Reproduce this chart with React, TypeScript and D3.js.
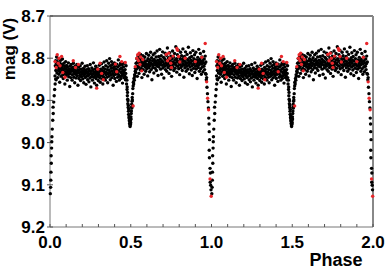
import * as d3 from "d3";

// chart size and frame
const width = 390;
const height = 272;
const marginLeft = 50;
const marginRight = 17;
const marginTop = 16;
const marginBottom = 45;

// phase 0..1 observations, black (V)
const blackOut1: [number, number][] = [
  [0.031,8.842],[0.033,8.818],[0.035,8.806],[0.036,8.829],[0.038,8.851],[0.040,8.812],[0.041,8.797],[0.043,8.835],[0.045,8.821],[0.046,8.808],
  [0.048,8.846],[0.050,8.815],[0.052,8.829],[0.053,8.801],[0.055,8.838],[0.057,8.824],[0.059,8.811],[0.060,8.857],[0.062,8.819],[0.064,8.833],
  [0.066,8.805],[0.068,8.826],[0.069,8.843],[0.071,8.814],[0.073,8.831],[0.075,8.822],[0.077,8.802],[0.079,8.839],[0.080,8.817],[0.082,8.848],
  [0.084,8.827],[0.086,8.812],[0.088,8.836],[0.090,8.824],[0.092,8.861],[0.093,8.819],[0.095,8.832],[0.097,8.808],[0.099,8.841],[0.101,8.826],
  [0.103,8.817],[0.105,8.835],[0.107,8.852],[0.108,8.821],[0.110,8.829],[0.112,8.838],[0.114,8.811],[0.116,8.844],[0.118,8.826],[0.120,8.833],
  [0.122,8.867],[0.124,8.819],[0.125,8.837],[0.127,8.828],[0.129,8.846],[0.131,8.815],[0.133,8.831],[0.135,8.824],[0.137,8.852],[0.139,8.839],
  [0.141,8.822],[0.143,8.829],[0.145,8.812],[0.147,8.845],[0.149,8.834],[0.151,8.826],[0.153,8.858],[0.155,8.819],[0.157,8.838],[0.159,8.831],
  [0.161,8.847],[0.163,8.823],[0.165,8.836],[0.167,8.815],[0.169,8.842],[0.171,8.829],[0.173,8.864],[0.175,8.832],[0.177,8.821],[0.179,8.848],
  [0.181,8.835],[0.183,8.827],[0.185,8.841],[0.187,8.818],[0.189,8.853],[0.191,8.833],[0.193,8.826],[0.195,8.844],[0.197,8.838],[0.199,8.812],
  [0.201,8.831],[0.203,8.849],[0.205,8.836],[0.207,8.824],[0.209,8.858],[0.211,8.841],[0.213,8.829],[0.215,8.837],[0.217,8.819],[0.219,8.846],
  [0.221,8.833],[0.223,8.862],[0.225,8.827],[0.227,8.843],[0.229,8.836],[0.231,8.818],[0.233,8.851],[0.235,8.832],[0.237,8.841],[0.239,8.825],
  [0.241,8.856],[0.243,8.838],[0.245,8.829],[0.247,8.847],[0.249,8.815],[0.251,8.836],[0.253,8.868],[0.255,8.831],[0.257,8.844],[0.259,8.823],
  [0.261,8.839],[0.263,8.852],[0.265,8.828],[0.267,8.837],[0.269,8.811],[0.271,8.845],[0.273,8.833],[0.275,8.859],[0.277,8.826],[0.279,8.841],
  [0.281,8.834],[0.283,8.819],[0.285,8.848],[0.287,8.831],[0.289,8.864],[0.291,8.838],[0.293,8.824],[0.295,8.843],[0.297,8.835],[0.299,8.853],
  [0.301,8.828],[0.303,8.839],[0.305,8.817],[0.307,8.846],[0.309,8.832],[0.311,8.857],[0.313,8.826],[0.315,8.841],[0.317,8.836],[0.319,8.813],
  [0.321,8.849],[0.323,8.829],[0.325,8.838],[0.327,8.861],[0.329,8.822],[0.331,8.844],[0.333,8.831],[0.335,8.809],[0.337,8.847],[0.339,8.835],
  [0.341,8.826],[0.343,8.852],[0.345,8.818],[0.347,8.839],[0.349,8.833],[0.351,8.806],[0.353,8.845],[0.355,8.827],[0.357,8.858],[0.359,8.821],
  [0.361,8.837],[0.363,8.812],[0.365,8.843],[0.367,8.829],[0.369,8.801],[0.371,8.834],[0.373,8.851],[0.375,8.818],[0.377,8.839],[0.379,8.824],
  [0.381,8.808],[0.383,8.846],[0.385,8.831],[0.387,8.815],[0.389,8.837],[0.391,8.864],[0.393,8.822],[0.395,8.841],[0.397,8.827],[0.399,8.811],
  [0.401,8.848],[0.403,8.833],[0.405,8.819],[0.407,8.838],[0.409,8.826],[0.411,8.855],[0.413,8.814],[0.415,8.836],[0.417,8.829],[0.419,8.845],
  [0.421,8.821],[0.423,8.804],[0.425,8.839],[0.427,8.831],[0.429,8.852],[0.431,8.817],[0.433,8.843],[0.435,8.826],[0.437,8.812],[0.439,8.848],
  [0.441,8.834],[0.443,8.823],[0.445,8.841],[0.447,8.815],[0.449,8.859],[0.451,8.829],[0.453,8.838],[0.455,8.821],[0.457,8.846],[0.459,8.833],
  [0.461,8.812],[0.463,8.842],[0.465,8.827],[0.467,8.851],[0.469,8.836],[0.471,8.818],
];

const blackOut2: [number, number][] = [
  [0.531,8.834],[0.533,8.812],[0.535,8.826],[0.537,8.801],[0.539,8.819],[0.541,8.843],[0.543,8.808],[0.545,8.795],[0.547,8.822],[0.549,8.811],
  [0.551,8.836],[0.553,8.799],[0.555,8.817],[0.557,8.805],[0.559,8.828],[0.561,8.791],[0.563,8.813],[0.565,8.824],[0.567,8.802],[0.569,8.846],
  [0.571,8.809],[0.573,8.818],[0.575,8.794],[0.577,8.827],[0.579,8.812],[0.581,8.803],[0.583,8.838],[0.585,8.816],[0.587,8.797],[0.589,8.821],
  [0.591,8.808],[0.593,8.831],[0.595,8.814],[0.597,8.789],[0.599,8.825],[0.601,8.806],[0.603,8.819],[0.605,8.842],[0.607,8.801],[0.609,8.815],
  [0.611,8.793],[0.613,8.823],[0.615,8.809],[0.617,8.832],[0.619,8.804],[0.621,8.818],[0.623,8.786],[0.625,8.812],[0.627,8.827],[0.629,8.799],
  [0.631,8.851],[0.633,8.814],[0.635,8.806],[0.637,8.822],[0.639,8.792],[0.641,8.817],[0.643,8.835],[0.645,8.803],[0.647,8.811],[0.649,8.788],
  [0.651,8.824],[0.653,8.807],[0.655,8.816],[0.657,8.797],[0.659,8.829],[0.661,8.812],[0.663,8.783],[0.665,8.819],[0.667,8.805],[0.669,8.841],
  [0.671,8.813],[0.673,8.796],[0.675,8.821],[0.677,8.808],[0.679,8.779],[0.681,8.815],[0.683,8.802],[0.685,8.826],[0.687,8.811],[0.689,8.794],
  [0.691,8.838],[0.693,8.806],[0.695,8.817],[0.697,8.785],[0.699,8.823],[0.701,8.809],[0.703,8.798],[0.705,8.847],[0.707,8.814],[0.709,8.801],
  [0.711,8.819],[0.713,8.788],[0.715,8.827],[0.717,8.805],[0.719,8.812],[0.721,8.793],[0.723,8.831],[0.725,8.816],[0.727,8.776],[0.729,8.808],
  [0.731,8.822],[0.733,8.799],[0.735,8.814],[0.737,8.836],[0.739,8.803],[0.741,8.787],[0.743,8.818],[0.745,8.807],[0.747,8.826],[0.749,8.795],
  [0.751,8.811],[0.753,8.843],[0.755,8.802],[0.757,8.816],[0.759,8.783],[0.761,8.821],[0.763,8.809],[0.765,8.797],[0.767,8.829],[0.769,8.813],
  [0.771,8.789],[0.773,8.804],[0.775,8.824],[0.777,8.811],[0.779,8.773],[0.781,8.817],[0.783,8.801],[0.785,8.833],[0.787,8.806],[0.789,8.792],
  [0.791,8.819],[0.793,8.808],[0.795,8.781],[0.797,8.825],[0.799,8.812],[0.801,8.798],[0.803,8.839],[0.805,8.815],[0.807,8.803],[0.809,8.786],
  [0.811,8.822],[0.813,8.809],[0.815,8.794],[0.817,8.818],[0.819,8.829],[0.821,8.801],[0.823,8.778],[0.825,8.813],[0.827,8.806],[0.829,8.845],
  [0.831,8.817],[0.833,8.796],[0.835,8.823],[0.837,8.808],[0.839,8.785],[0.841,8.814],[0.843,8.831],[0.845,8.802],[0.847,8.819],[0.849,8.791],
  [0.851,8.811],[0.853,8.826],[0.855,8.804],[0.857,8.774],[0.859,8.816],[0.861,8.809],[0.863,8.837],[0.865,8.799],[0.867,8.821],[0.869,8.787],
  [0.871,8.812],[0.873,8.805],[0.875,8.828],[0.877,8.796],[0.879,8.818],[0.881,8.841],[0.883,8.807],[0.885,8.782],[0.887,8.815],[0.889,8.824],
  [0.891,8.801],[0.893,8.813],[0.895,8.792],[0.897,8.834],[0.899,8.809],[0.901,8.819],[0.903,8.786],[0.905,8.826],[0.907,8.804],[0.909,8.817],
  [0.911,8.848],[0.913,8.811],[0.915,8.798],[0.917,8.822],[0.919,8.806],[0.921,8.779],[0.923,8.816],[0.925,8.831],[0.927,8.803],[0.929,8.812],
  [0.931,8.789],[0.933,8.825],[0.935,8.808],[0.937,8.838],[0.939,8.814],[0.941,8.797],[0.943,8.821],[0.945,8.806],[0.947,8.832],[0.949,8.811],
  [0.951,8.784],[0.953,8.819],[0.955,8.802],[0.957,8.827],[0.959,8.813],[0.961,8.795],[0.963,8.836],[0.965,8.809],
];

// secondary minimum near phase 0.5
const blackSecondary: [number, number][] = [
  [0.472,8.846],[0.474,8.861],[0.476,8.852],[0.477,8.874],[0.478,8.868],[0.479,8.889],[0.480,8.881],[0.481,8.897],[0.482,8.908],[0.483,8.901],
  [0.484,8.917],[0.485,8.912],[0.486,8.926],[0.487,8.933],[0.488,8.921],[0.489,8.941],[0.490,8.937],[0.491,8.948],[0.492,8.944],[0.493,8.955],
  [0.494,8.951],[0.495,8.958],[0.496,8.962],[0.497,8.949],[0.498,8.957],[0.499,8.946],[0.500,8.953],[0.501,8.939],[0.502,8.944],[0.503,8.931],
  [0.504,8.925],[0.505,8.916],[0.506,8.909],[0.507,8.918],[0.508,8.902],[0.509,8.893],[0.510,8.899],[0.512,8.884],[0.513,8.872],[0.515,8.866],
  [0.516,8.857],[0.518,8.861],[0.520,8.848],[0.522,8.852],[0.524,8.839],[0.526,8.843],[0.528,8.831],[0.529,8.824],
];

// primary minimum near phase 0 / 1 (sparser, scattered)
const blackPrimary: [number, number][] = [
  [0.966,8.838],[0.968,8.851],[0.970,8.846],[0.972,8.869],[0.975,8.884],[0.978,8.903],[0.981,8.918],[0.983,8.942],[0.985,8.956],[0.986,8.974],
  [0.988,8.993],[0.986,9.018],[0.987,9.036],[0.991,9.061],[0.993,9.072],[0.992,9.094],[0.995,9.101],[0.997,9.112],
  [0.002,9.121],[0.004,9.106],[0.005,9.089],[0.006,9.070],[0.008,9.049],[0.007,9.031],[0.010,9.013],[0.011,8.998],[0.012,8.986],[0.014,8.968],
  [0.017,8.947],[0.020,8.931],[0.019,8.916],[0.023,8.904],[0.026,8.889],[0.029,8.874],[0.032,8.861],[0.035,8.849],
];

// red observations
const redPoints: [number, number][] = [
  [0.031,8.808],[0.038,8.822],[0.045,8.792],[0.051,8.812],[0.056,8.800],[0.062,8.818],[0.072,8.796],[0.079,8.834],[0.093,8.845],[0.144,8.806],
  [0.158,8.822],[0.176,8.815],[0.289,8.871],[0.296,8.826],[0.310,8.812],[0.320,8.836],[0.330,8.851],[0.405,8.814],[0.413,8.832],[0.433,8.796],
  [0.444,8.808],[0.466,8.810],
  [0.515,8.913],[0.528,8.820],[0.538,8.800],[0.543,8.792],[0.548,8.806],[0.552,8.788],[0.557,8.815],[0.562,8.797],[0.568,8.830],[0.575,8.803],
  [0.720,8.791],[0.728,8.806],[0.735,8.788],[0.742,8.800],[0.748,8.812],[0.752,8.822],[0.762,8.795],[0.785,8.777],[0.790,8.781],[0.796,8.796],
  [0.804,8.809],[0.837,8.800],[0.900,8.808],[0.940,8.798],[0.961,8.765],
  [0.970,8.856],[0.976,8.895],[0.982,8.922],[0.991,9.086],[0.998,9.127],
];

const xTicks = [0, 0.5, 1, 1.5, 2];
const yTicks = [8.7, 8.8, 8.9, 9.0, 9.1, 9.2];
const cycles = [0, 1];

const fontFamily = "'Liberation Sans', Arial, Helvetica, sans-serif";

export default function App() {
  const x = d3.scaleLinear().domain([0, 2]).range([marginLeft, width - marginRight]);
  const y = d3.scaleLinear().domain([8.7, 9.2]).range([marginTop, height - marginBottom]);

  const black = [...blackOut1, ...blackSecondary, ...blackOut2, ...blackPrimary];
  const unfold = (pts: [number, number][]) =>
    cycles.flatMap((c) => pts.map(([p, m]) => [p + c, m] as [number, number]));

  const minorTicks = d3.range(0, 21).map((i) => i / 10);
  const x0 = x(0), x1 = x(2), y0 = y(8.7), y1 = y(9.2);

  return (
    <svg width={width} height={height} style={{ position: "absolute", left: 0, top: 0 }}
      fontFamily={fontFamily} fontWeight="bold">
      <rect width={width} height={height} fill="#fff" />
      {/* frame */}
      <line x1={x0} x2={x1} y1={y0} y2={y0} stroke="#000" strokeWidth={1} />
      <line x1={x1} x2={x1} y1={y0} y2={y1} stroke="#888" strokeWidth={2} />
      <line x1={x0} x2={x0} y1={y0} y2={y1} stroke="#777" strokeWidth={1} />
      <line x1={x0} x2={x1} y1={y1} y2={y1} stroke="#777" strokeWidth={1} />

      {/* x ticks */}
      {minorTicks.map((t) => (
        <line key={"mx" + t} x1={x(t)} x2={x(t)} y1={y1} y2={y1 - 3} stroke="#555" strokeWidth={1} />
      ))}
      {xTicks.map((t) => (
        <text key={"tx" + t} x={x(t)} y={y1 + 21} textAnchor="middle" fontSize={17} fill="#000">
          {d3.format(".1f")(t)}
        </text>
      ))}
      {/* y ticks */}
      {yTicks.map((t) => (
        <g key={"ty" + t}>
          <line x1={x0 - 3} x2={x0 + 3} y1={y(t)} y2={y(t)} stroke="#555" strokeWidth={1} />
          <text x={x0 - 5} y={y(t) + 6} textAnchor="end" fontSize={17} fill="#000">
            {d3.format(".1f")(t)}
          </text>
        </g>
      ))}

      {/* points */}
      {unfold(black).map(([p, m], i) => (
        <circle key={"b" + i} cx={x(p)} cy={y(m)} r={1.7} fill="#000" />
      ))}
      {unfold(redPoints).map(([p, m], i) => (
        <circle key={"r" + i} cx={x(p)} cy={y(m)} r={1.7} fill="#e8262a" />
      ))}

      {/* titles */}
      <text transform={`translate(15,49) rotate(-90)`} textAnchor="middle" fontSize={17} fill="#000">
        mag (V)
      </text>
      <text x={336} y={266} textAnchor="middle" fontSize={18} fill="#000">
        Phase
      </text>
    </svg>
  );
}
